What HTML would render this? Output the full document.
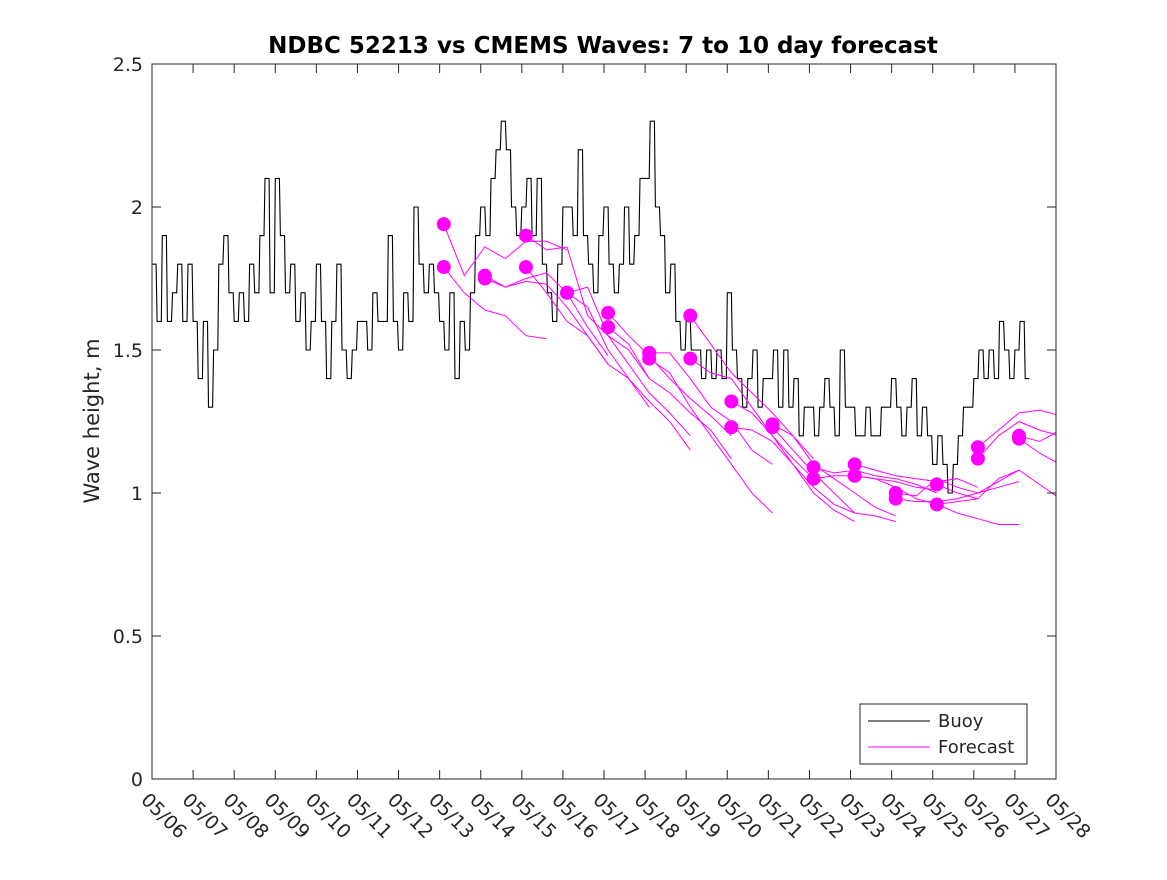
<!DOCTYPE html>
<html><head><meta charset="utf-8"><style>
body{margin:0;background:#fff}
svg text{font-family:"DejaVu Sans","Liberation Sans",sans-serif;fill:#262626}
</style></head><body>
<svg id="chart" width="1167" height="875" xmlns="http://www.w3.org/2000/svg">
<rect width="1167" height="875" fill="#fff"/>
<g id="plot"></g>
</svg>
<script>
const dayLabels=["05/06","05/07","05/08","05/09","05/10","05/11","05/12","05/13","05/14","05/15","05/16","05/17","05/18","05/19","05/20","05/21","05/22","05/23","05/24","05/25","05/26","05/27","05/28"];
const yTicks=[0,0.5,1,1.5,2,2.5];
// buoy values, 3-hourly from 05/06 00:00
const buoy=[1.8,1.6,1.9,1.6,1.7,1.8,1.6,1.8, 1.6,1.4,1.6,1.3,1.5,1.8,1.9,1.7, 1.6,1.7,1.6,1.8,1.7,1.9,2.1,1.7, 2.1,1.9,1.7,1.8,1.6,1.7,1.5,1.6,
1.8,1.6,1.4,1.6,1.8,1.5,1.4,1.5, 1.6,1.6,1.5,1.7,1.6,1.6,1.9,1.6, 1.5,1.7,1.6,2.0,1.8,1.7,1.8,1.7, 1.6,1.5,1.7,1.4,1.6,1.5,1.7,1.9,
2.0,1.9,2.1,2.2,2.3,2.2,2.0,1.9, 2.0,2.1,1.9,2.1,1.8,1.7,1.6,1.8, 2.0,2.0,1.9,2.2,1.9,1.8,1.7,1.9, 2.0,1.8,1.7,1.8,2.0,1.8,1.9,2.1,
2.1,2.3,2.0,1.9,1.7,1.8,1.6,1.5, 1.6,1.5,1.5,1.4,1.5,1.4,1.5,1.4, 1.7,1.5,1.4,1.3,1.4,1.5,1.3,1.4, 1.4,1.5,1.3,1.5,1.3,1.4,1.2,1.3,
1.3,1.2,1.3,1.4,1.3,1.2,1.5,1.3, 1.3,1.2,1.2,1.3,1.2,1.2,1.3,1.3, 1.4,1.3,1.2,1.3,1.4,1.2,1.3,1.2, 1.1,1.2,1.1,1.0,1.1,1.2,1.3,1.3,
1.4,1.5,1.4,1.5,1.4,1.6,1.5,1.4, 1.5,1.6,1.4];
// forecast segments: start day (since 05/06), values every 0.5 day
const fcStart=[7.1,7.1,8.1,8.1,9.1,9.1,10.1,10.1,11.1,11.1,12.1,12.1,13.1,13.1,14.1,14.1,15.1,15.1,16.1,16.1,17.1,17.1,18.1,18.1,19.1,19.1,20.1,20.1,21.1,21.1];
const fcVals=[
[1.94,1.76,1.86,1.82,1.88,1.88,1.85],
[1.79,1.70,1.64,1.62,1.55,1.54],
[1.76,1.72,1.75,1.77,1.70,1.58,1.48],
[1.75,1.72,1.74,1.73,1.65,1.55,1.45],
[1.90,1.85,1.86,1.62,1.55,1.50,1.40],
[1.79,1.70,1.60,1.55,1.45,1.40,1.30],
[1.70,1.72,1.55,1.45,1.35,1.28,1.20],
[1.70,1.65,1.50,1.40,1.32,1.25,1.15],
[1.63,1.55,1.48,1.40,1.33,1.27,1.20],
[1.58,1.52,1.40,1.35,1.28,1.22,1.12],
[1.49,1.49,1.40,1.30,1.25,1.15,1.10],
[1.47,1.42,1.30,1.20,1.10,1.00,0.93],
[1.62,1.52,1.42,1.35,1.28,1.20,1.12],
[1.47,1.42,1.40,1.30,1.20,1.12,1.05],
[1.32,1.28,1.20,1.10,1.02,0.96,0.93],
[1.23,1.22,1.18,1.10,1.00,0.94,0.90],
[1.24,1.20,1.10,1.05,1.00,0.95,0.92],
[1.23,1.15,1.07,1.00,0.93,0.92,0.90],
[1.09,1.07,1.08,1.06,1.05,1.03,1.00],
[1.05,1.06,1.06,1.05,1.04,1.02,1.01],
[1.10,1.08,1.06,1.05,1.04,1.05,1.02],
[1.06,1.05,1.02,0.98,0.96,0.97,0.98],
[1.00,0.99,1.05,1.02,1.00,1.04,1.08],
[0.98,0.97,0.97,0.98,1.00,1.02,1.04],
[1.03,1.00,0.98,1.05,1.08,1.03,0.98,0.95],
[0.96,0.93,0.91,0.89,0.89],
[1.16,1.22,1.28,1.29,1.27,1.30],
[1.12,1.20,1.25,1.22,1.20,1.25],
[1.20,1.18,1.22,1.25,1.35],
[1.19,1.14,1.10,1.12,1.14]];

const L=152,R=1056,T=64,B=779,NS="http://www.w3.org/2000/svg";
const xS=d=>L+(R-L)*d/22;
const yS=v=>B-(B-T)*v/2.5;
const g=document.getElementById('plot');
function mk(t,a,p){const e=document.createElementNS(NS,t);for(const k in a)e.setAttribute(k,a[k]);(p||g).appendChild(e);return e;}

// buoy (stepped, like quantized hourly record)
let bpts=[];
buoy.forEach((v,i)=>{
  const x0=xS(i/8),x1=xS((i+1)/8),y=yS(v);
  bpts.push(x0.toFixed(1)+','+y.toFixed(1));
  bpts.push((x1-1).toFixed(1)+','+y.toFixed(1));
});
const bl=mk('polyline',{points:bpts.join(' '),fill:'none',stroke:'#000','stroke-width':1.1});



// forecasts
const clip=mk('clipPath',{id:'cp'});mk('rect',{x:L,y:T,width:R-L,height:B-T},clip);
fcVals.forEach((vals,k)=>{
  const s=fcStart[k];
  const pts=vals.map((v,i)=>xS(s+i*0.5).toFixed(1)+','+yS(v).toFixed(1)).join(' ');
  const pl=mk('polyline',{points:pts,fill:'none',stroke:'#ff00ff','stroke-width':1,'clip-path':'url(#cp)'});
  
  
});
fcVals.forEach((vals,k)=>{
  const c=mk('circle',{cx:xS(fcStart[k]),cy:yS(vals[0]),r:7,fill:'#ff00ff'});
  
  
});

// axes box
const box=mk('rect',{x:L,y:T,width:R-L,height:B-T,fill:'none',stroke:'#262626','stroke-width':1});


dayLabels.forEach((lab,i)=>{
  const x=xS(i);
  mk('line',{x1:x,y1:B,x2:x,y2:B-9,stroke:'#262626'});
  mk('line',{x1:x,y1:T,x2:x,y2:T+9,stroke:'#262626'});
  const t=mk('text',{x:x-12,y:801,'font-size':19,transform:`rotate(45 ${x-12} 801)`});
  t.textContent=lab;
  
  
});
yTicks.forEach(v=>{
  const y=yS(v);
  mk('line',{x1:L,y1:y,x2:L+9,y2:y,stroke:'#262626'});
  mk('line',{x1:R,y1:y,x2:R-9,y2:y,stroke:'#262626'});
  const t=mk('text',{x:L-9,y:y+7,'font-size':19,'text-anchor':'end'});
  t.textContent=v;
  
  
});
const yt=mk('text',{x:99,y:421,'font-size':21,'text-anchor':'middle',transform:'rotate(-90 99 421)'});
yt.textContent='Wave height, m';


const tt=mk('text',{x:603,y:53,'font-size':23,'font-weight':'bold','text-anchor':'middle',style:'fill:#000'});
tt.textContent='NDBC 52213 vs CMEMS Waves: 7 to 10 day forecast';



// legend
const lg=mk('g',{});


mk('rect',{x:860,y:704,width:167,height:60,fill:'#fff',stroke:'#262626'},lg);
mk('line',{x1:868,y1:721,x2:930,y2:721,stroke:'#000'},lg);
mk('line',{x1:868,y1:747,x2:930,y2:747,stroke:'#ff00ff'},lg);
const l1=mk('text',{x:938,y:727,'font-size':18},lg);l1.textContent='Buoy';


const l2=mk('text',{x:938,y:753,'font-size':18},lg);l2.textContent='Forecast';


</script>
</body></html>
